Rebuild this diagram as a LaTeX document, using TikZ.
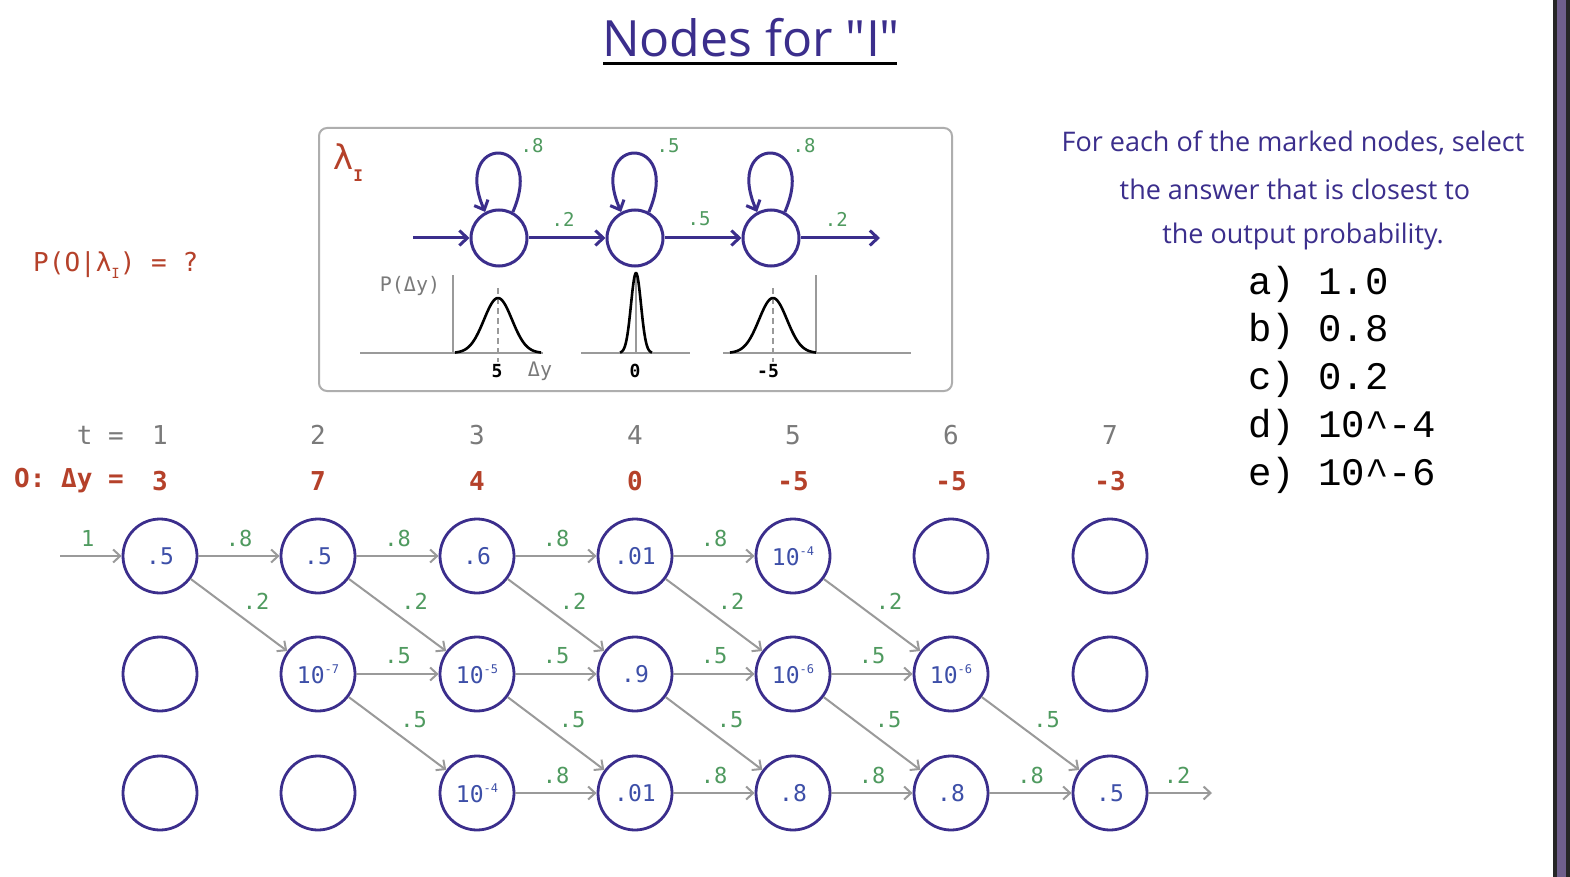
\documentclass[tikz,border=0pt]{standalone}
\usepackage{fontspec}
\setmonofont{DejaVu Sans Mono}
\newfontfamily\hand{Open Sans}
\newfontfamily\cour{Liberation Mono}
\usetikzlibrary{arrows.meta,calc}
\definecolor{ind}{HTML}{3B2E8C}
\definecolor{nblue}{HTML}{3D4FA8}
\definecolor{lgreen}{HTML}{4F9A5F}
\definecolor{arrg}{HTML}{9A9A9A}
\definecolor{rbrown}{HTML}{B5412A}
\definecolor{hgray}{HTML}{7A7A7A}
\definecolor{barp}{HTML}{6F5F8C}
\newcommand\myexp[1]{\raisebox{0.45em}{\fontsize{12}{12}\selectfont-#1}}
\begin{document}
\begin{tikzpicture}[x=1pt,y=-1pt,
  tn/.style={circle, draw=ind, line width=2.8pt, minimum size=74pt, inner sep=0pt, text=nblue, font=\fontsize{23}{23}\selectfont\ttfamily},
  ga/.style={draw=arrg, line width=2pt, -{Straight Barb[length=7pt,width=13pt]}},
  lbl/.style={text=lgreen, font=\fontsize{22}{22}\selectfont\ttfamily, inner sep=0pt},
  hs/.style={circle, draw=ind, line width=3pt, minimum size=56pt, inner sep=0pt},
  ha/.style={draw=ind, line width=3pt, -{Straight Barb[length=8pt,width=15pt]}},
  hl/.style={text=lgreen, font=\fontsize{19}{19}\selectfont\ttfamily, inner sep=0pt},
  hdr/.style={text=hgray, font=\fontsize{26}{26}\selectfont\ttfamily, inner sep=0pt},
  obs/.style={text=rbrown, font=\fontsize{26}{26}\selectfont\ttfamily\bfseries, inner sep=0pt},
  opt/.style={anchor=west, font=\fontsize{39}{39}\selectfont\cour, inner sep=0pt},
  qtxt/.style={text=ind, font=\fontsize{27}{27}\selectfont\hand, inner sep=0pt},
  gauss/.style={draw=black, line width=2.6pt},
  axisl/.style={draw=arrg, line width=1.8pt}
]
\useasboundingbox (0,0) rectangle (1570,877);
\fill[white] (0,0) rectangle (1570,877);
% right bar
\fill[black!85] (1553,0) rectangle (1570,877);
\fill[barp] (1557,0) rectangle (1566,877);

% title
\node[text=ind, font=\fontsize{50}{50}\selectfont\hand, inner sep=0pt] (title) at (751,38) {Nodes for "I"};
\draw[line width=3pt] (603,64) -- (897,64);

% left question
\node[text=rbrown, font=\fontsize{26}{26}\selectfont\ttfamily, inner sep=0pt, anchor=west] (q) at (33,265) {P(O|λ\raisebox{-0.3em}{\fontsize{14}{14}\selectfont I}) = ?};

% HMM box
\node[draw=arrg!80, line width=2pt, rounded corners=8pt, minimum width=633pt, minimum height=263pt, inner sep=0pt] (box) at (635.5,259.5) {};
\node[text=rbrown, font=\fontsize{34}{34}\selectfont\ttfamily, inner sep=0pt] (lam) at (348,163) {λ\raisebox{-0.35em}{\fontsize{16}{16}\selectfont\bfseries I}};

\node[hs] (s1) at (499,238) {};
\node[hs] (s2) at (635,238) {};
\node[hs] (s3) at (771,238) {};
\coordinate (hin) at (413,238);
\coordinate (hout) at (880,238);
\draw[ha] (hin) -- (s1);
\draw[ha] (s1) -- (s2) node[hl, pos=0.45, shift={(0,-19)}] {.2};
\draw[ha] (s2) -- (s3) node[hl, pos=0.45, shift={(0,-19)}] {.5};
\draw[ha] (s3) -- (hout) node[hl, pos=0.45, shift={(0,-19)}] {.2};
\foreach \s/\p in {s1/.8,s2/.5,s3/.8}{
  \draw[ha] (\s.62) .. controls +(34,-78) and +(-34,-78) .. (\s.118);
  \node[hl] at ($(\s)+(33,-92)$) {\p};
}

% emission plots
\draw[axisl] (360,353) -- (543,353);
\draw[axisl] (581,353) -- (690,353);
\draw[axisl] (723,353) -- (911,353);
\draw[axisl] (453,275) -- (453,353);
\draw[axisl] (816,275) -- (816,353);
\draw[axisl] (636,275) -- (636,353);
\draw[axisl, dashed, dash pattern=on 6pt off 4pt] (498,288) -- (498,362);
\draw[axisl, dashed, dash pattern=on 6pt off 4pt] (773,288) -- (773,362);
\draw[gauss] plot[domain=-43:43, samples=60, smooth] ({498+\x},{353-55*exp(-\x*\x/392)});
\draw[gauss] plot[domain=-16:16, samples=60, smooth] ({636+\x},{353-80*exp(-\x*\x/50)});
\draw[gauss] plot[domain=-43:43, samples=60, smooth] ({773+\x},{353-55*exp(-\x*\x/392)});
\node[text=hgray, font=\fontsize{20}{20}\selectfont\ttfamily, inner sep=0pt] (py) at (410,286) {P(Δy)};
\node[font=\fontsize{18}{18}\selectfont\ttfamily\bfseries, inner sep=0pt] (l5) at (497,371) {5};
\node[text=hgray, font=\fontsize{20}{20}\selectfont\ttfamily, inner sep=0pt] (ldy) at (540,371) {Δy};
\node[font=\fontsize{18}{18}\selectfont\ttfamily\bfseries, inner sep=0pt] (l0) at (635,371) {0};
\node[font=\fontsize{18}{18}\selectfont\ttfamily\bfseries, inner sep=0pt] (lm5) at (768,371) {-5};

% right text
\node[qtxt] (r1) at (1293,143) {For each of the marked nodes, select};
\node[qtxt] (r2) at (1295,189) {the answer that is closest to};
\node[qtxt] (r3) at (1303,236) {the output probability.};
\node[opt] (oa) at (1248,284) {a) 1.0};
\node[opt] (ob) at (1248,331) {b) 0.8};
\node[opt] (oc) at (1248,379) {c) 0.2};
\node[opt] (od) at (1248,427) {d) 10\^{}-4};
\node[opt] (oe) at (1248,475) {e) 10\^{}-6};

% headers
\node[hdr, anchor=east] (th) at (124,435) {t =};
\node[obs, anchor=east] (oh) at (124,481) {O: Δy =};
\foreach \x/\t/\o [count=\i] in {160/1/3,318/2/7,477/3/4,635/4/0,793/5/-5,951/6/-5,1110/7/-3}{
  \node[hdr] (t\i) at (\x,435) {\t};
  \node[obs] (o\i) at (\x,481) {\o};
}

% trellis nodes
\node[tn] (n11) at (160,556) {.5};
\node[tn] (n12) at (318,556) {.5};
\node[tn] (n13) at (477,556) {.6};
\node[tn] (n14) at (635,556) {.01};
\node[tn] (n15) at (793,556) {10\myexp{4}};
\node[tn] (n16) at (951,556) {};
\node[tn] (n17) at (1110,556) {};
\node[tn] (n21) at (160,674) {};
\node[tn] (n22) at (318,674) {10\myexp{7}};
\node[tn] (n23) at (477,674) {10\myexp{5}};
\node[tn] (n24) at (635,674) {.9};
\node[tn] (n25) at (793,674) {10\myexp{6}};
\node[tn] (n26) at (951,674) {10\myexp{6}};
\node[tn] (n27) at (1110,674) {};
\node[tn] (n31) at (160,793) {};
\node[tn] (n32) at (318,793) {};
\node[tn] (n33) at (477,793) {10\myexp{4}};
\node[tn] (n34) at (635,793) {.01};
\node[tn] (n35) at (793,793) {.8};
\node[tn] (n36) at (951,793) {.8};
\node[tn] (n37) at (1110,793) {.5};

\coordinate (tin) at (60,556);
\coordinate (tout) at (1212,793);
\draw[ga] (tin) -- (n11) node[lbl, pos=0.45, shift={(0,-18)}] {1};
\draw[ga] (n37) -- (tout) node[lbl, pos=0.45, shift={(0,-18)}] {.2};
\foreach \a/\b in {1/2,2/3,3/4,4/5}
  \draw[ga] (n1\a) -- (n1\b) node[lbl, midway, shift={(0,-18)}] {.8};
\foreach \a/\b in {1/2,2/3,3/4,4/5,5/6}
  \draw[ga] (n1\a) -- (n2\b) node[lbl, midway, shift={(17,-14)}] {.2};
\foreach \a/\b in {2/3,3/4,4/5,5/6}
  \draw[ga] (n2\a) -- (n2\b) node[lbl, midway, shift={(0,-18)}] {.5};
\foreach \a/\b in {2/3,3/4,4/5,5/6,6/7}
  \draw[ga] (n2\a) -- (n3\b) node[lbl, midway, shift={(16,-14)}] {.5};
\foreach \a/\b in {3/4,4/5,5/6,6/7}
  \draw[ga] (n3\a) -- (n3\b) node[lbl, midway, shift={(0,-18)}] {.8};
\end{tikzpicture}
\end{document}
